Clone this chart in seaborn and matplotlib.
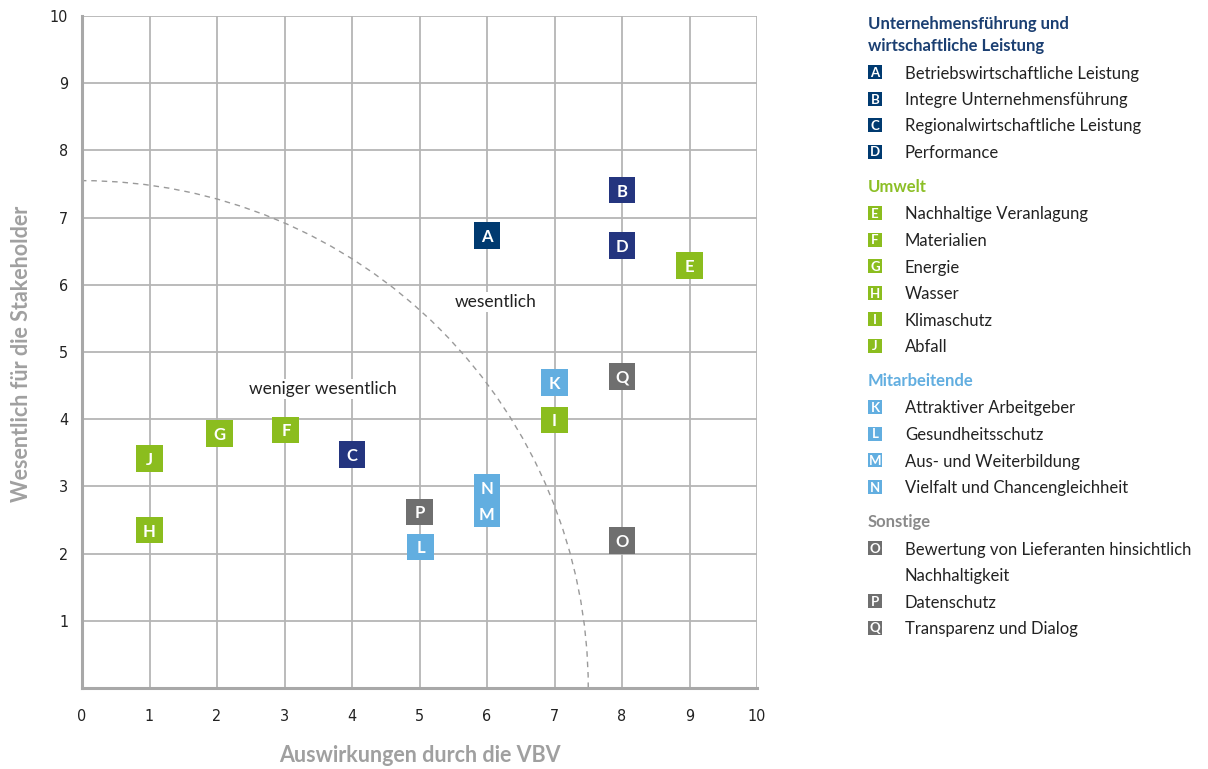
import pandas as pd
import matplotlib.pyplot as plt
import seaborn as sns
from matplotlib.patches import Arc, Rectangle

# --- data ---
codes = list("ABCDEFGHIJKLMNOPQ")
impact = [6, 8, 4, 8, 9, 3.02, 2.04, 1, 7, 1, 7, 5.02, 6, 6, 8, 5, 8]
stakeholder = [6.73, 7.41, 3.48, 6.58, 6.29, 3.84, 3.79, 2.35, 3.99, 3.42,
               4.55, 2.10, 2.60, 2.99, 2.19, 2.62, 4.64]
marker_colors = ["#003a70", "#24357f", "#24357f", "#24357f",
                 "#8bbd1e", "#8bbd1e", "#8bbd1e", "#8bbd1e", "#8bbd1e", "#8bbd1e",
                 "#62aee0", "#62aee0", "#62aee0", "#62aee0",
                 "#6f6f6f", "#6f6f6f", "#6f6f6f"]

group_titles = ["Unternehmensführung und\nwirtschaftliche Leistung", "Umwelt",
                "Mitarbeitende", "Sonstige"]
group_colors = ["#1b3f72", "#8cbf26", "#62aee0", "#8a8a8a"]
group_box_colors = ["#003a70", "#8bbd1e", "#62aee0", "#6f6f6f"]
group_codes = [list("ABCD"), list("EFGHIJ"), list("KLMN"), list("OPQ")]
group_labels = [
    ["Betriebswirtschaftliche Leistung", "Integre Unternehmensführung",
     "Regionalwirtschaftliche Leistung", "Performance"],
    ["Nachhaltige Veranlagung", "Materialien", "Energie", "Wasser",
     "Klimaschutz", "Abfall"],
    ["Attraktiver Arbeitgeber", "Gesundheitsschutz", "Aus- und Weiterbildung",
     "Vielfalt und Chancengleichheit"],
    ["Bewertung von Lieferanten hinsichtlich\nNachhaltigkeit", "Datenschutz",
     "Transparenz und Dialog"],
]

# boundary between "weniger wesentlich" and "wesentlich" (quarter ellipse)
boundary_x, boundary_y = 7.5, 7.55
zone_labels = ["wesentlich", "weniger wesentlich"]
zone_pos = [(6.13, 5.74), (3.57, 4.45)]

sns.set_theme(style="white")
plt.rcParams["font.family"] = ["Lato", "DejaVu Sans"]

W, H = 1208, 769
fig = plt.figure(figsize=(W / 100, H / 100), dpi=100)
ax = fig.add_axes([82 / W, 1 - 688 / H, 675 / W, 672 / H])

df = pd.DataFrame({"code": codes, "x": impact, "y": stakeholder})
sns.scatterplot(data=df, x="x", y="y", hue="code",
                palette=dict(zip(codes, marker_colors)), marker="s", s=370,
                linewidth=0, legend=False, ax=ax, zorder=3)
for c, x, y in zip(codes, impact, stakeholder):
    ax.text(x, y, c, color="white", ha="center", va="center_baseline",
            fontsize=12, fontweight="bold", zorder=4)

ax.add_patch(Arc((0, 0), 2 * boundary_x, 2 * boundary_y, theta1=0, theta2=90,
                 color="#9a9a9a", lw=1, ls=(0, (4, 3.5)), zorder=2))

for txt, (x, y) in zip(zone_labels, zone_pos):
    ax.text(x, y, txt, ha="center", va="center", fontsize=12.5, color="#222222",
            bbox=dict(fc="white", ec="none", pad=1.5), zorder=2.5)

ax.set_xlim(0, 10)
ax.set_ylim(0, 10)
ax.set_xticks(range(0, 11))
ax.set_yticks(range(1, 11))
ax.grid(True, color="#b5b5b5", lw=1.3)
ax.set_axisbelow(True)
for side in ["top", "right"]:
    ax.spines[side].set_visible(False)
for side in ["left", "bottom"]:
    ax.spines[side].set_color("#a8a8a8")
    ax.spines[side].set_linewidth(2.2)
ax.tick_params(axis="x", length=0, pad=15, labelsize=12, labelcolor="#222222")
ax.tick_params(axis="y", length=0, pad=10, labelsize=12, labelcolor="#222222")
for lab in ax.get_xticklabels() + ax.get_yticklabels():
    lab.set_family(["DejaVu Sans"])
    lab.set_fontstretch("condensed")
    lab.set_fontsize(11.5)

ax.set_xlabel("Auswirkungen durch die VBV", color="#a0a0a0", fontsize=15.5,
              fontweight="bold", va="center")
ax.set_ylabel("Wesentlich für die Stakeholder", color="#a0a0a0", fontsize=15.5,
              fontweight="bold", va="center")
ax.xaxis.set_label_coords(0.5, -(755 - 688) / 672)
ax.yaxis.set_label_coords((21 - 82) / 675, (688 - 354) / 672)

# --- legend panel on the right, in pixel units ---
lax = fig.add_axes([0, 0, 1, 1], zorder=-1)
lax.set_xlim(0, W)
lax.set_ylim(H, 0)
lax.axis("off")

box_x, text_x, box = 868, 905, 14
row = 26.5
y = 22
for title, tcol, bcol, gcodes, glabels in zip(group_titles, group_colors,
                                                group_box_colors, group_codes,
                                                group_labels):
    for i, line in enumerate(title.split("\n")):
        if i:
            y += 22
        lax.text(box_x, y, line, color=tcol, fontsize=12, fontweight="bold",
                 ha="left", va="center_baseline")
    y += 27 if "\n" not in title else 28
    for c, lab in zip(gcodes, glabels):
        lax.add_patch(Rectangle((box_x, y - box / 2), box, box, fc=bcol, ec="none"))
        lax.text(box_x + box / 2, y, c, color="white", fontsize=9.5,
                 fontweight="bold", ha="center", va="center_baseline")
        for line in lab.split("\n"):
            lax.text(text_x, y, line, color="#222222", fontsize=12,
                     ha="left", va="center_baseline")
            y += row
    y += 34.5 - row

fig.savefig("out.png", dpi=100)
